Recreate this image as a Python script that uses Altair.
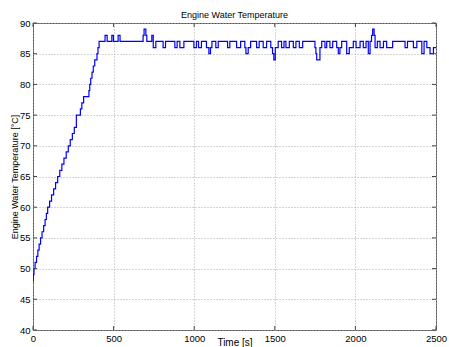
import altair as alt
import pandas as pd

# Step points (time [s], temperature [°C])
time_s = [0, 2, 6, 13, 22, 30, 38, 47, 56, 66, 75, 83, 91, 103, 115, 128, 140, 153,
          166, 179, 192, 206, 219, 231, 244, 256, 269, 294, 303, 314, 347, 352, 358,
          366, 374, 383, 397, 403, 410,
          447, 460, 489, 499, 528, 540, 683, 689, 700, 706, 737, 746, 762, 807, 822,
          880, 894, 911, 936, 998, 1014, 1027, 1045, 1076, 1091, 1101, 1110, 1134,
          1149, 1207, 1221, 1263, 1288, 1314, 1321, 1335, 1350, 1387, 1403, 1428,
          1449, 1475, 1486, 1494, 1503, 1521, 1542, 1557, 1569, 1590, 1615, 1631,
          1652, 1673, 1749, 1755, 1760, 1780, 1791, 1811, 1822, 1842, 1859, 1884,
          1894, 1904, 1915, 1946, 1962, 1987, 2004, 2029, 2049, 2066, 2080, 2091,
          2100, 2107, 2116, 2122, 2136, 2153, 2174, 2194, 2231, 2308, 2323, 2360,
          2381, 2412, 2426, 2443, 2463, 2484, 2500]
temp_c = [48, 49, 50, 51, 52, 53, 54, 55, 56, 57, 58, 59, 60, 61, 62, 63, 64, 65,
          66, 67, 68, 69, 70, 71, 72, 73, 75, 76, 77, 78, 79, 80, 81,
          82, 83, 84, 85, 86, 87,
          88, 87, 88, 87, 88, 87, 88, 89, 88, 87, 88, 86, 87, 86, 87,
          86, 87, 86, 87, 86, 87, 86, 87, 86, 85, 86, 87, 86,
          87, 86, 87, 86, 87, 86, 85, 86, 87, 86, 87, 86,
          87, 86, 85, 84, 86, 87, 86, 87, 86, 87, 86, 87,
          86, 87, 86, 85, 84, 86, 87, 86, 87, 86, 87, 86,
          85, 86, 87, 85, 86, 87, 86, 87, 86, 87, 85, 87,
          88, 89, 88, 86, 87, 86, 87, 86, 87, 86, 87, 86,
          87, 85, 87, 86, 85, 86, 86]

x_ticks = [0, 500, 1000, 1500, 2000, 2500]
y_ticks = [40, 45, 50, 55, 60, 65, 70, 75, 80, 85, 90]

df = pd.DataFrame({"t": time_s, "T": temp_c})
xt = pd.DataFrame({"t": x_ticks})
yt = pd.DataFrame({"T": y_ticks})

FONT = "Liberation Sans Narrow, Arial Narrow, Liberation Sans, Arial, sans-serif"
W, H = 403, 307
xscale = alt.Scale(domain=[0, 2500], nice=False)
yscale = alt.Scale(domain=[40, 90], nice=False)
TICK = "#444444"

xaxis = alt.Axis(values=x_ticks, format="d", title="Time [s]", grid=True,
                 gridDash=[1, 2], gridColor="#aaaaaa", ticks=False,
                 labelPadding=3, titleY=15, titleBaseline="alphabetic",
                 titleFontWeight="normal", titleFontSize=10,
                 labelFontSize=9.5, labelFlush=False, labelOverlap=False,
                 domain=False)
yaxis = alt.Axis(values=y_ticks, title="Engine Water Temperature [°C]",
                 grid=True, gridDash=[1, 2], gridColor="#aaaaaa",
                 ticks=False, labelPadding=3, titleFontWeight="normal",
                 titleFontSize=9, labelFontSize=9.5, titleX=-19,
                 titleBaseline="middle", labelFlush=False,
                 labelOverlap=False, domain=False)

line = alt.Chart(df).mark_line(
    interpolate="step-after", color="#0000ff", strokeWidth=1.2, clip=True
).encode(
    x=alt.X("t:Q", scale=xscale, axis=xaxis),
    y=alt.Y("T:Q", scale=yscale, axis=yaxis),
)

xt_bottom = alt.Chart(xt).mark_rule(color=TICK, strokeWidth=1).encode(
    x=alt.X("t:Q", scale=xscale, axis=xaxis), y=alt.value(H), y2=alt.value(H - 4))
xt_top = alt.Chart(xt).mark_rule(color=TICK, strokeWidth=1).encode(
    x=alt.X("t:Q", scale=xscale, axis=xaxis), y=alt.value(0), y2=alt.value(4))
yt_left = alt.Chart(yt).mark_rule(color=TICK, strokeWidth=1).encode(
    y=alt.Y("T:Q", scale=yscale, axis=yaxis), x=alt.value(0), x2=alt.value(4))
yt_right = alt.Chart(yt).mark_rule(color=TICK, strokeWidth=1).encode(
    y=alt.Y("T:Q", scale=yscale, axis=yaxis), x=alt.value(W), x2=alt.value(W - 4))

chart = alt.layer(line, xt_bottom, xt_top, yt_left, yt_right).properties(
    width=W, height=H,
    title=alt.TitleParams("Engine Water Temperature", fontSize=9,
                          fontWeight="normal", offset=-2, anchor="middle",
                          font=FONT, color="black"),
    autosize=alt.AutoSizeParams(type="none"),
    padding={"left": 33, "top": 23, "right": 13, "bottom": 17},
    background="white",
).configure_view(
    stroke="#555555", strokeWidth=1
).configure_axis(
    labelFont=FONT, titleFont=FONT, labelColor="black", titleColor="black"
)

chart.save("out.html", embed_options={"renderer": "svg", "actions": False})
